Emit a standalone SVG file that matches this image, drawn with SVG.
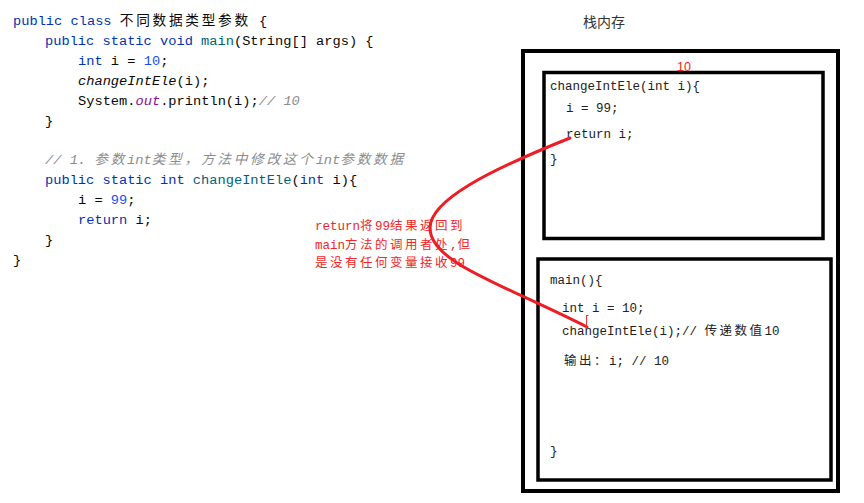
<svg xmlns="http://www.w3.org/2000/svg" width="864" height="503" viewBox="0 0 864 503">
<style>
.code{font-family:"Liberation Mono","Noto Sans CJK SC",monospace;font-size:13.7px;fill:#080808}
.kw{fill:#0033b3}
.fn{fill:#00627a}
.num{fill:#1750eb}
.it{font-style:italic}
.cm{fill:#8c8c8c;font-style:italic}
.st{fill:#871094;font-style:italic}
.cjk{letter-spacing:2.7px}
.box{font-family:"Liberation Mono","Noto Sans CJK SC",monospace;font-size:12.5px;fill:#222}
.cjk2{letter-spacing:2.5px}
.note{font-family:"Liberation Mono","Noto Sans CJK SC",monospace;font-size:12.5px;fill:#ee2828}
.frame{fill:none;stroke:#000}
</style>
<rect width="864" height="503" fill="#fff"/>
<g id="source-code" class="code">
<text x="13" y="25"><tspan class="kw">public class</tspan> <tspan class="cjk">不同数据类型参数</tspan> {</text>
<text x="45" y="45"><tspan class="kw">public static void</tspan> <tspan class="fn">main</tspan>(String[] args) {</text>
<text x="78" y="65"><tspan class="kw">int</tspan> i = <tspan class="num">10</tspan>;</text>
<text x="78" y="85"><tspan class="it">changeIntEle</tspan>(i);</text>
<text x="78" y="105">System.<tspan class="st">out</tspan>.println(i);<tspan class="cm">// 10</tspan></text>
<text x="45" y="125">}</text>
<text x="45" y="164" class="cm">// 1. <tspan class="cjk">参数</tspan>int<tspan class="cjk">类型，方法中修改这个</tspan>int<tspan class="cjk">参数数据</tspan></text>
<text x="45" y="184"><tspan class="kw">public static int</tspan> <tspan class="fn">changeIntEle</tspan>(<tspan class="kw">int</tspan> i){</text>
<text x="78" y="204">i = <tspan class="num">99</tspan>;</text>
<text x="78" y="224"><tspan class="kw">return</tspan> i;</text>
<text x="45" y="244">}</text>
<text x="13" y="264">}</text>
</g>
<g id="stack-title">
<text x="583" y="27" font-family="'Noto Sans CJK SC',sans-serif" font-size="14" fill="#333">栈内存</text>
</g>
<g id="stack-memory">
<rect class="frame" x="523" y="51" width="315" height="440" stroke-width="4"/>
</g>
<g id="frame-changeIntEle">
<rect class="frame" x="544" y="72.5" width="279" height="166" stroke-width="3.5"/>
<text x="677" y="71" font-family="'Liberation Sans',sans-serif" font-size="12.5" fill="#ee2222">10</text>
<g class="box">
<text x="550" y="90">changeIntEle(int i){</text>
<text x="566" y="112">i = 99;</text>
<text x="566" y="138">return i;</text>
<text x="550" y="163">}</text>
</g>
</g>
<g id="frame-main">
<rect class="frame" x="538" y="259" width="293" height="221" stroke-width="3.5"/>
<g class="box">
<text x="550" y="284">main(){</text>
<text x="562" y="312">int i = 10;</text>
<text x="562" y="335">changeIntEle(i);// <tspan class="cjk2">传递数值</tspan>10</text>
<text x="564" y="365"><tspan class="cjk2">输出：</tspan>i; // 10</text>
<text x="550" y="455">}</text>
</g>
</g>
<g id="note" class="note">
<text x="315" y="230">return<tspan class="cjk2">将</tspan>99<tspan class="cjk2">结果返回到</tspan></text>
<text x="315" y="249">main<tspan class="cjk2">方法的调用者处</tspan>,<tspan class="cjk2">但</tspan></text>
<text x="315" y="267"><tspan class="cjk2">是没有任何变量接收</tspan>99</text>
</g>
<g id="connectors">
<path d="M570,138 C490,170 430,200 430,228 C430,262 500,283 587,327" fill="none" stroke="#ee1c24" stroke-width="3" stroke-linecap="round"/>
<path d="M586.5,315 L586.5,328 M586.5,315.5 L588.5,315.5" fill="none" stroke="#ee3333" stroke-width="1"/>
</g>
</svg>
